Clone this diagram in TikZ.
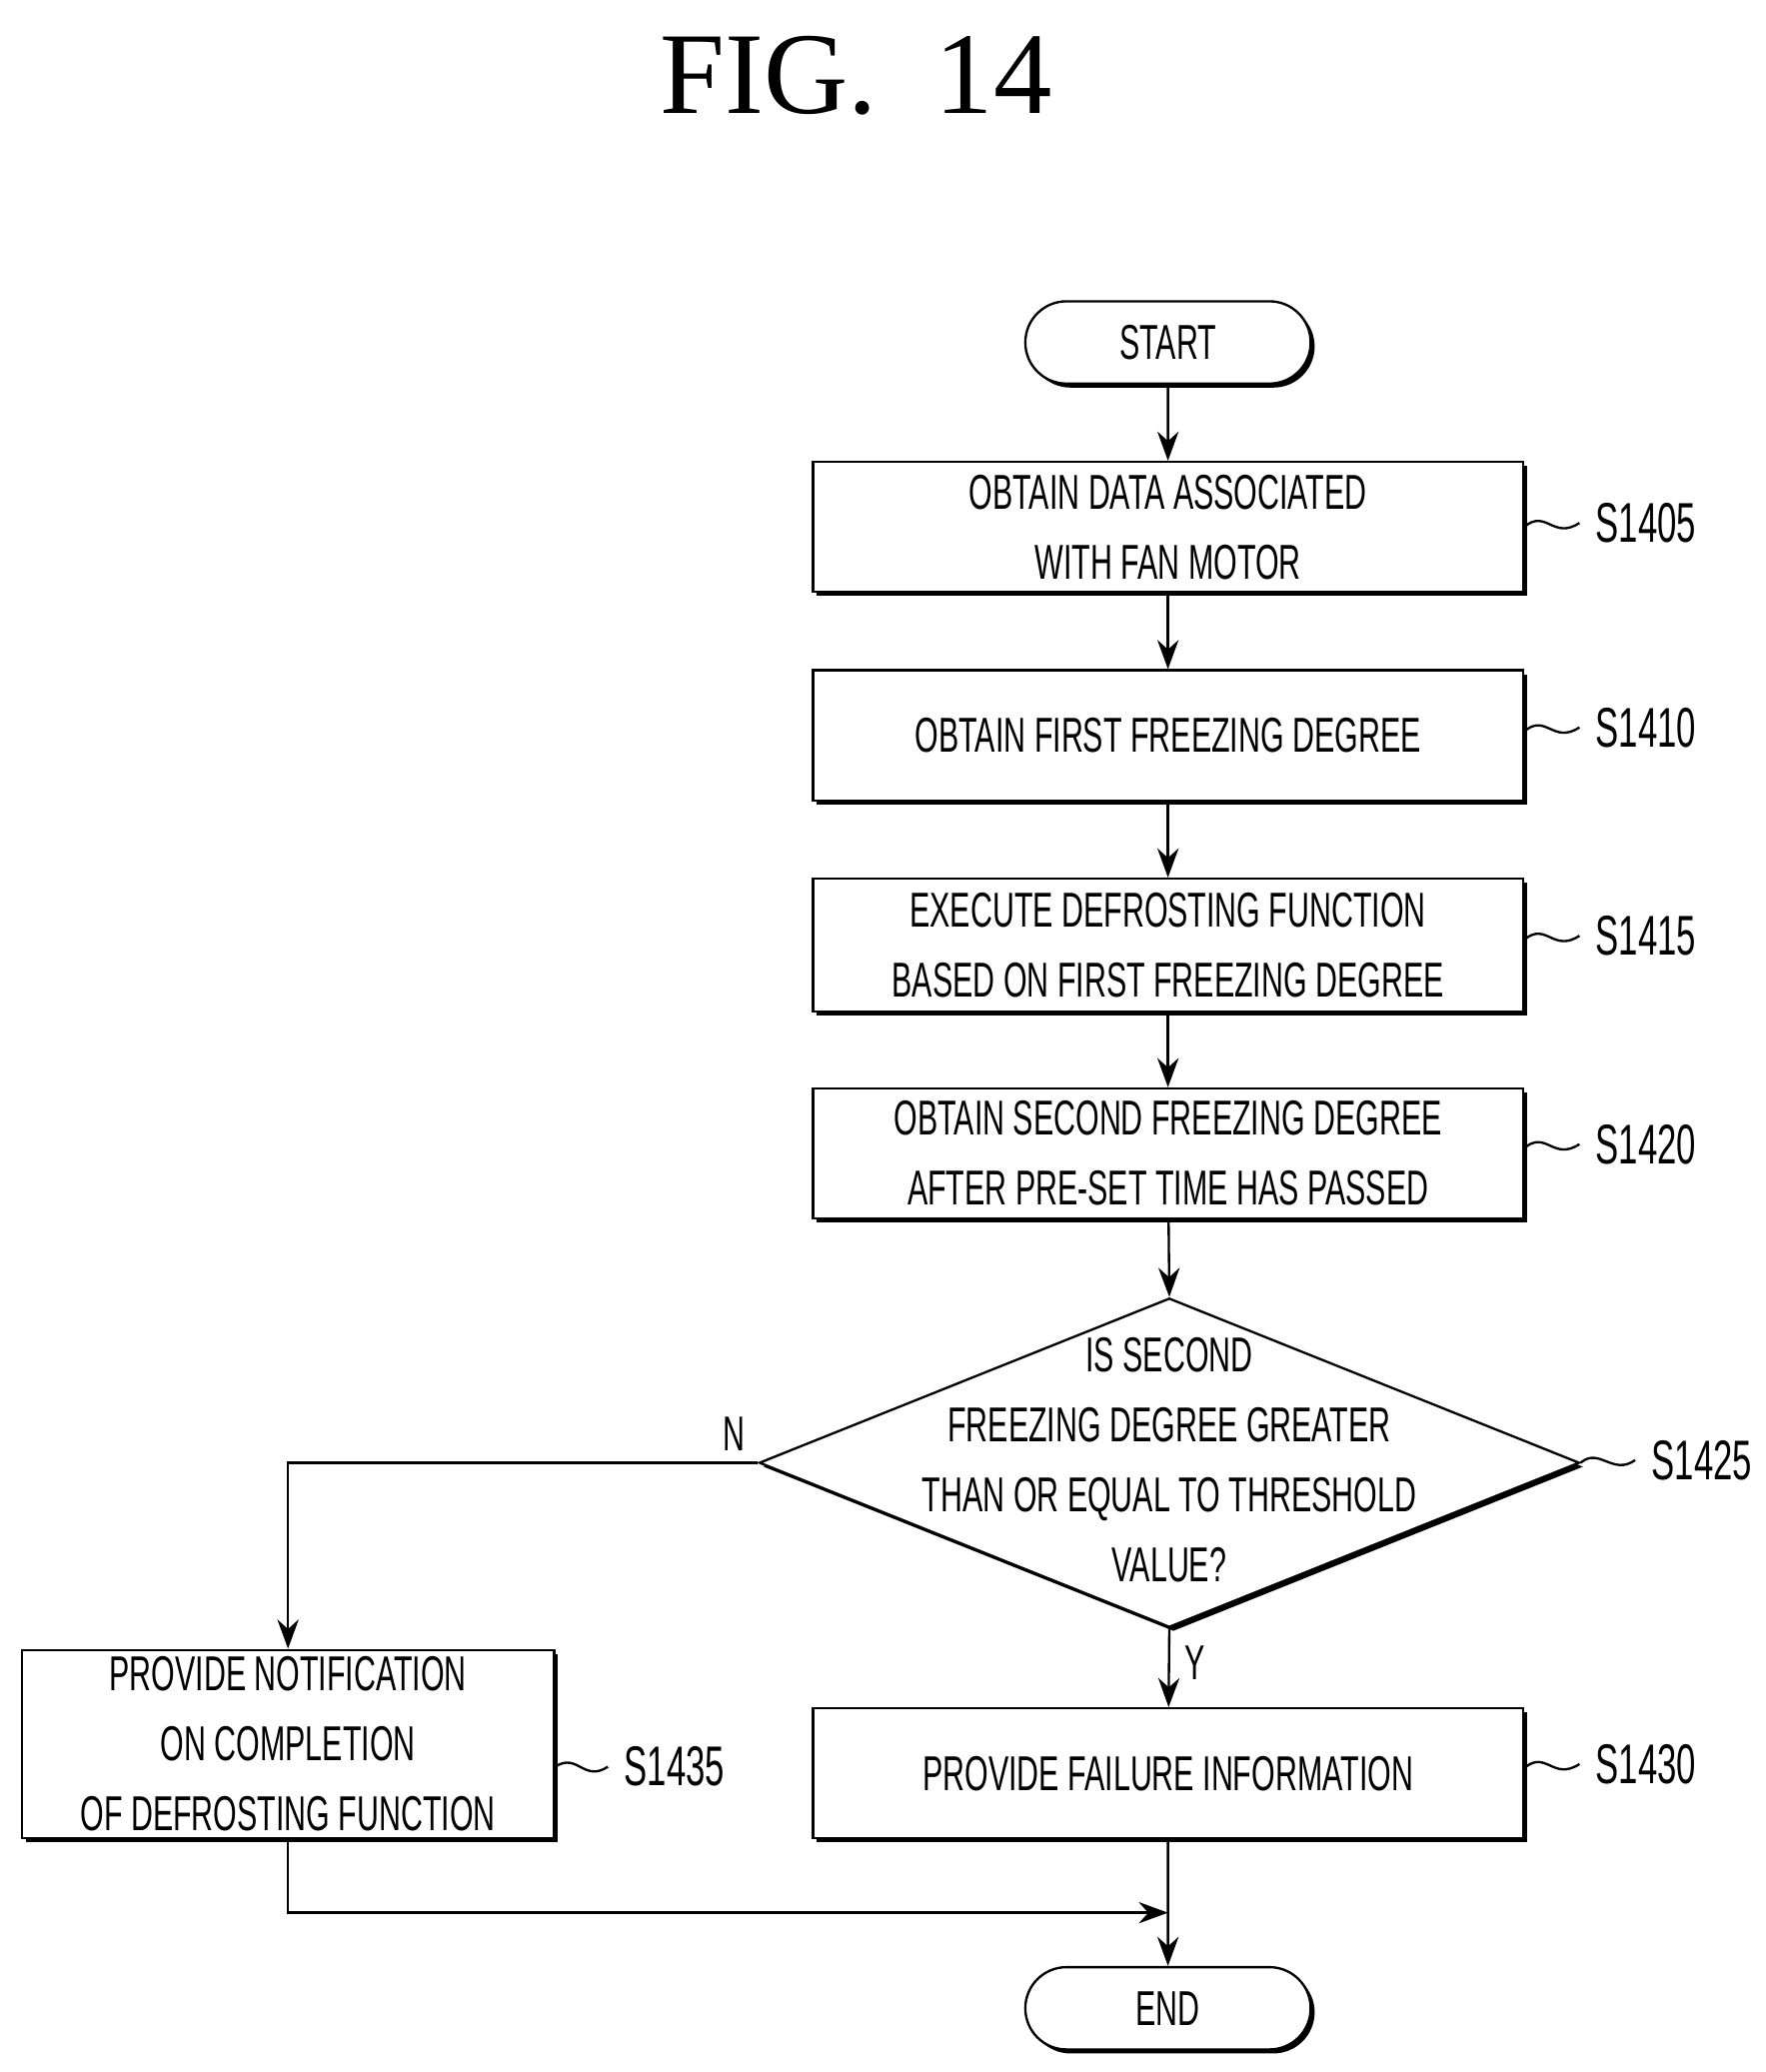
\documentclass[tikz,border=0pt]{standalone}
\usepackage{fontspec}
\setmainfont{Liberation Sans}
\newfontfamily\seriffont{Liberation Serif}
\usetikzlibrary{shapes.geometric,shapes.misc,shadows,arrows.meta}
\newcommand{\T}[1]{\scalebox{0.62}[1]{#1}}
\begin{document}
\begin{tikzpicture}[x=0.1mm,y=-0.1mm,
  every node/.style={font=\fontsize{10.5}{15}\selectfont},
  box/.style={draw,line width=0.5pt,fill=white,align=center,inner sep=0pt,
    drop shadow={shadow xshift=0.3mm,shadow yshift=-0.3mm,opacity=1,fill=black}},
  term/.style={box,rounded rectangle,minimum width=21.5mm,minimum height=6.2mm},
  lab/.style={anchor=west,font=\fontsize{12}{14}\selectfont},
  arr/.style={-{Stealth[length=2.2mm,width=1.6mm]},line width=0.5pt},
  tl/.style={line width=0.5pt}]
\useasboundingbox (0,0) rectangle (1330,1561);
\node[font=\seriffont\fontsize{25}{30}\selectfont] (title) at (645,57) {FIG.\ \ 14};
\node[term] (start) at (880,258) {\T{START}};
\node[box,minimum width=53.5mm,minimum height=9.8mm] (b1) at (880,397) {\T{OBTAIN DATA ASSOCIATED}\\\T{WITH FAN MOTOR}};
\node[box,minimum width=53.5mm,minimum height=9.8mm] (b2) at (880,554) {\T{OBTAIN FIRST FREEZING DEGREE}};
\node[box,minimum width=53.5mm,minimum height=10mm] (b3) at (880,712) {\T{EXECUTE DEFROSTING FUNCTION}\\\T{BASED ON FIRST FREEZING DEGREE}};
\node[box,minimum width=53.5mm,minimum height=9.8mm] (b4) at (880,869) {\T{OBTAIN SECOND FREEZING DEGREE}\\\T{AFTER PRE-SET TIME HAS PASSED}};
\node[box,diamond,minimum width=61.8mm,minimum height=24.8mm,inner sep=0pt] (d) at (881,1102) {};
\node[align=center] (dt) at (881,1100) {\T{IS SECOND}\\\T{FREEZING DEGREE GREATER}\\\T{THAN OR EQUAL TO THRESHOLD}\\\T{VALUE?}};
\node[box,minimum width=53.5mm,minimum height=9.8mm] (b5) at (880,1336) {\T{PROVIDE FAILURE INFORMATION}};
\node[box,minimum width=40.1mm,minimum height=14.2mm] (b6) at (217,1314) {\T{PROVIDE NOTIFICATION}\\\T{ON COMPLETION}\\\T{OF DEFROSTING FUNCTION}};
\node[term] (end) at (880,1513) {\T{END}};
\foreach \n/\l/\y in {b1/S1405/397,b2/S1410/551,b3/S1415/708,b4/S1420/865,b5/S1430/1332}{
  \node[lab] (l\n) at (1190,\y-3) {\T{\l}};
  \draw[tl] (\n.east|-0,\y) .. controls (1165,\y-14) and (1170,\y+10) .. (l\n.west);}
\node[lab] (ld) at (1232,1100) {\T{S1425}};
\draw[tl] (d.east) .. controls (1205,1090) and (1215,1112) .. (ld.west);
\node[lab] (lb6) at (458,1331) {\T{S1435}};
\draw[tl] (b6.east|-0,1331) .. controls (435,1320) and (440,1343) .. (lb6.west);
\node (N) at (553,1080) {\T{N}};
\node (Y) at (900,1253) {\T{Y}};
\draw[arr] (start) -- (b1);
\draw[arr] (b1) -- (b2);
\draw[arr] (b2) -- (b3);
\draw[arr] (b3) -- (b4);
\draw[arr] (b4) -- (d.north);
\draw[arr] (d.south) -- (b5);
\draw[arr] (d.west) -| (b6.north);
\draw[arr] (b5) -- (end);
\coordinate (j) at (880,1441);
\draw[arr] (b6.south) |- (j);
\end{tikzpicture}
\end{document}
